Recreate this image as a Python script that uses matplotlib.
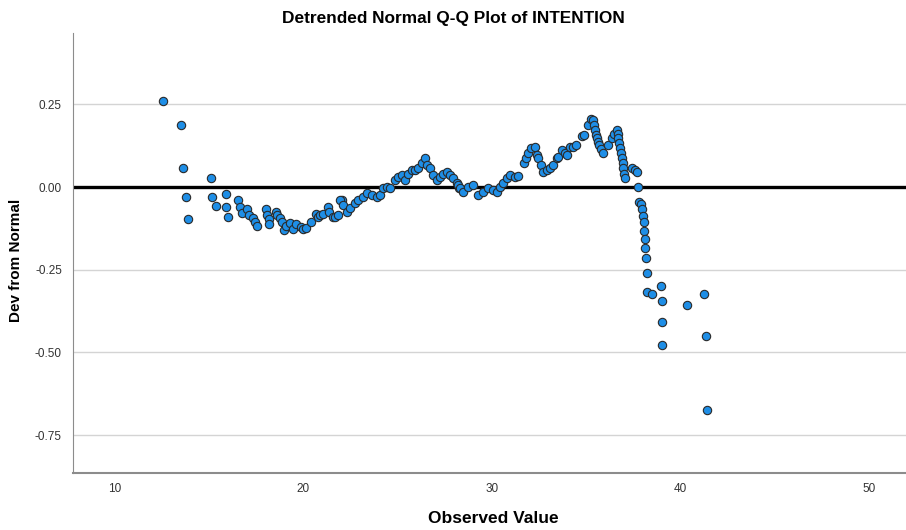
import numpy as np
import matplotlib.pyplot as plt

plt.rcParams['font.family'] = ['Liberation Sans', 'DejaVu Sans']

observed = [
    12.53, 13.52, 13.62, 13.77, 13.89, 15.09, 15.15, 15.34, 15.89, 15.90,
    15.98, 16.51, 16.63, 16.74, 17.00, 17.09, 17.34, 17.41, 17.55, 18.01,
    18.08, 18.15, 18.17, 18.53, 18.61, 18.75, 18.84, 18.98, 19.07, 19.28,
    19.46, 19.60, 19.85, 19.99, 20.13, 20.41, 20.66, 20.75, 20.88, 21.05,
    21.28, 21.35, 21.58, 21.67, 21.85, 22.03, 21.94, 22.11, 22.29, 22.47,
    22.73, 22.91, 23.17, 23.35, 23.62, 23.88, 24.06, 24.23, 24.41, 24.59,
    24.85, 25.03, 25.21, 25.38, 25.56, 25.74, 25.92, 26.09, 26.27, 26.45,
    26.54, 26.71, 26.89, 27.07, 27.24, 27.42, 27.60, 27.77, 27.95, 28.13,
    28.27, 28.21, 28.30, 28.48, 28.74, 29.01, 29.27, 29.54, 29.80, 30.07,
    30.25, 30.42, 30.60, 30.78, 30.95, 31.22, 31.39, 31.70, 31.80, 31.93,
    32.07, 32.28, 32.37, 32.46, 32.60, 32.72, 32.90, 33.08, 33.25, 33.43,
    33.52, 33.70, 33.87, 33.96, 34.14, 34.31, 34.44, 34.76, 34.90, 35.08,
    35.24, 35.37, 35.43, 35.46, 35.50, 35.55, 35.61, 35.68, 35.78, 35.90,
    36.14, 36.35, 36.49, 36.62, 36.67, 36.70, 36.74, 36.79, 36.84, 36.88,
    36.93, 36.97, 37.02, 37.06, 37.44, 37.59, 37.68, 37.73,
    37.80, 37.89, 37.96, 38.01, 38.06, 38.06, 38.12, 38.13, 38.15, 38.24,
    38.24, 38.50, 38.97, 39.02, 39.02, 39.02, 40.36, 41.23, 41.35, 41.39,
]
deviation = [
    0.261, 0.187, 0.058, -0.031, -0.097, 0.027, -0.030, -0.057, -0.022, -0.061,
    -0.091, -0.040, -0.061, -0.078, -0.066, -0.084, -0.093, -0.107, -0.118, -0.066,
    -0.084, -0.096, -0.113, -0.076, -0.085, -0.093, -0.107, -0.130, -0.118, -0.108,
    -0.127, -0.112, -0.120, -0.127, -0.123, -0.107, -0.080, -0.091, -0.085, -0.082,
    -0.060, -0.075, -0.090, -0.090, -0.085, -0.039, -0.039, -0.054, -0.075, -0.064,
    -0.049, -0.039, -0.029, -0.019, -0.024, -0.029, -0.024, -0.004, 0.001, -0.004,
    0.021, 0.031, 0.036, 0.021, 0.041, 0.051, 0.051, 0.057, 0.072, 0.087,
    0.067, 0.057, 0.036, 0.021, 0.031, 0.041, 0.046, 0.036, 0.026, 0.011,
    -0.004, 0.006, -0.004, -0.014, 0.001, 0.006, -0.024, -0.014, -0.004, -0.009,
    -0.014, 0.001, 0.011, 0.026, 0.036, 0.031, 0.033, 0.072, 0.087, 0.102,
    0.117, 0.122, 0.097, 0.087, 0.067, 0.046, 0.051, 0.057, 0.067, 0.087,
    0.092, 0.112, 0.102, 0.097, 0.122, 0.122, 0.127, 0.155, 0.159, 0.187,
    0.206, 0.203, 0.187, 0.172, 0.157, 0.147, 0.137, 0.127, 0.115, 0.102,
    0.127, 0.147, 0.162, 0.172, 0.162, 0.147, 0.132, 0.117, 0.102, 0.087,
    0.072, 0.057, 0.041, 0.026, 0.058, 0.051, 0.046, 0.001,
    -0.044, -0.052, -0.067, -0.087, -0.105, -0.134, -0.156, -0.184, -0.216, -0.261,
    -0.318, -0.324, -0.300, -0.346, -0.408, -0.478, -0.356, -0.324, -0.450, -0.675,
]

xticks = [10, 20, 30, 40, 50]
yticks = [-0.75, -0.50, -0.25, 0.00, 0.25]

fig = plt.figure(figsize=(9.06, 5.30), dpi=100)
ax = fig.add_axes([0.0806, 0.1075, 0.9194, 0.8302])

# light grid at the ticks, heavy reference line at zero
for yv in yticks:
    if yv != 0:
        ax.axhline(yv, color='#d4d4d4', lw=1.0, zorder=0)
ax.axhline(0, color='black', lw=2.4, zorder=1)

ax.scatter(observed, deviation, s=36, facecolor='#1e8ee6', edgecolor='#2a2a2a',
           linewidth=0.8, zorder=3)

ax.set_xlim(7.78, 51.96)
ax.set_ylim(-0.865, 0.466)
ax.set_xticks(xticks)
ax.set_yticks(yticks)
ax.set_xticklabels([str(t) for t in xticks])
ax.set_yticklabels([f"{t:.2f}" for t in yticks])
ax.tick_params(length=0, labelsize=8.5, colors='#333333', pad=8)
ax.tick_params(axis='x', pad=7)

for s in ['top', 'right']:
    ax.spines[s].set_visible(False)
ax.spines['left'].set_color('#8c8c8c')
ax.spines['bottom'].set_color('#8c8c8c')
ax.spines['bottom'].set_linewidth(1.5)

fig.text(0.5, 1 - 18 / 530, "Detrended Normal Q-Q Plot of INTENTION",
         fontsize=12.4, fontweight='bold', ha='center', va='center')
ax.set_xlabel("Observed Value", fontsize=12.5, fontweight='bold')
ax.xaxis.set_label_coords(0.504, -0.086)
ax.set_ylabel("Dev from Normal", fontsize=11, fontweight='bold')
ax.yaxis.set_label_coords(-0.060, 0.484)

fig.savefig("out.png", dpi=100)
